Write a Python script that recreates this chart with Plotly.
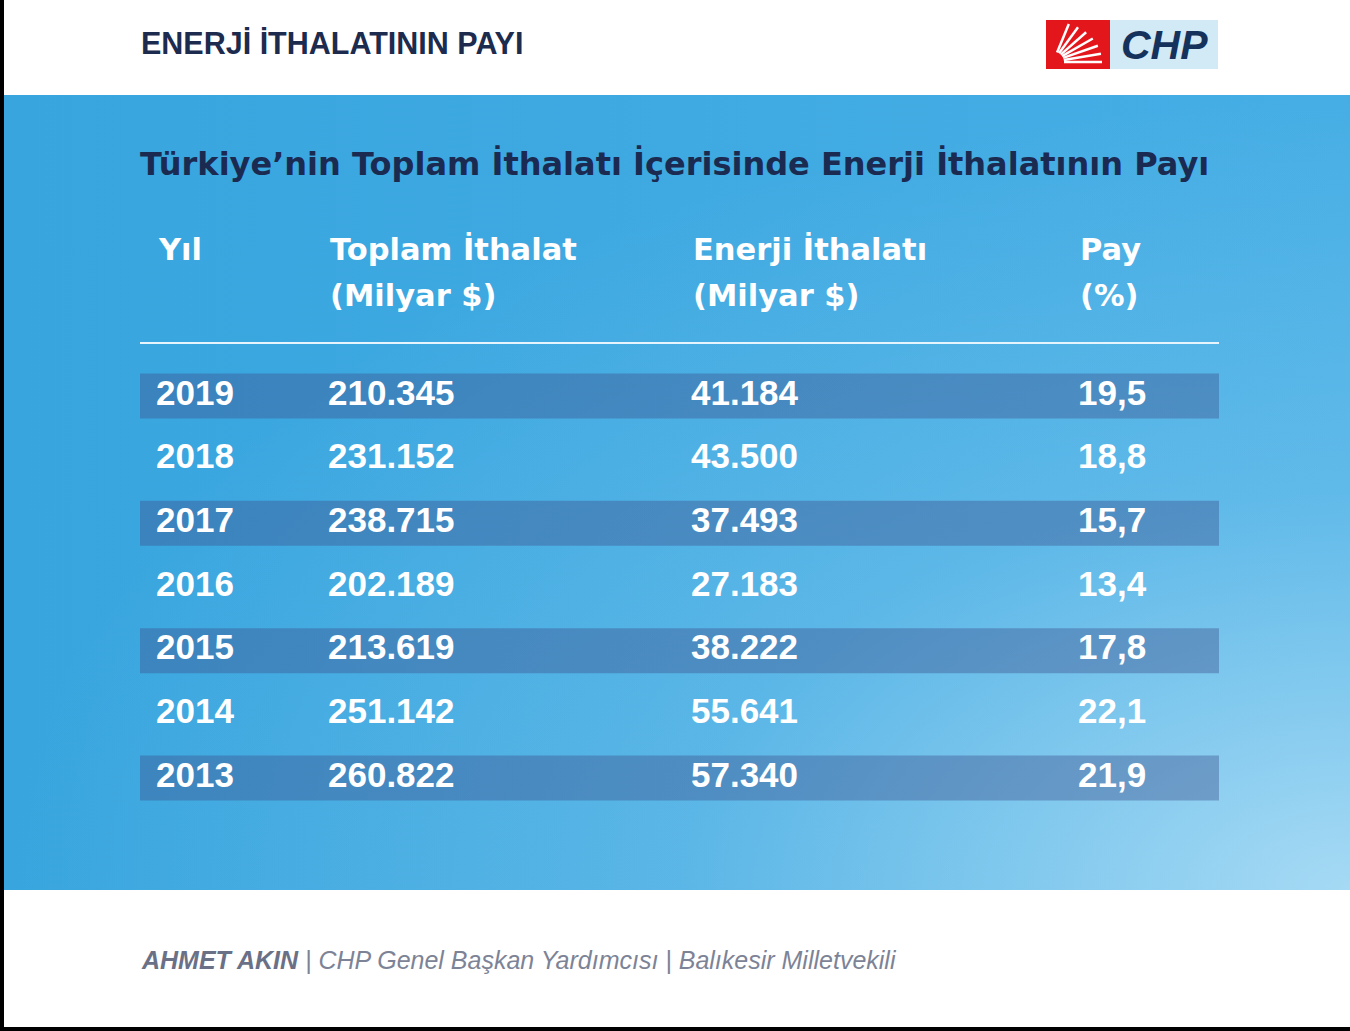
import math
import plotly.graph_objects as go

# Table values (Milyar $ / %)
years = [2019, 2018, 2017, 2016, 2015, 2014, 2013]
total_imports = [210.345, 231.152, 238.715, 202.189, 213.619, 251.142, 260.822]
energy_imports = [41.184, 43.500, 37.493, 27.183, 38.222, 55.641, 57.340]
share_pct = [19.5, 18.8, 15.7, 13.4, 17.8, 22.1, 21.9]

header_top = ["Yıl", "Toplam İthalat", "Enerji İthalatı", "Pay"]
header_bottom = ["", "(Milyar $)", "(Milyar $)", "(%)"]

title = "ENERJİ İTHALATININ PAYI"
subtitle = "Türkiye’nin Toplam İthalatı İçerisinde Enerji İthalatının Payı"
footer_name = "AHMET AKIN"
footer_role = " | CHP Genel Başkan Yardımcısı | Balıkesir Milletvekili"

# page geometry (pixels)
W, H = 1350, 1031
col_x = [156, 328, 691, 1078]
table_left, table_right = 140, 1219
band_top, band_bottom = 95, 890
row_px_first, row_px_step = 396, 63.67

navy = "#1D2B4E"
sans = "Liberation Sans, Arial, sans-serif"
wide = "DejaVu Sans, Verdana, sans-serif"

columns = [
    [str(y) for y in years],
    [f"{v:.3f}" for v in total_imports],
    [f"{v:.3f}" for v in energy_imports],
    [f"{v:.1f}".replace(".", ",") for v in share_pct],
]

fig = go.Figure()

# blue band background
fig.add_trace(go.Scatter(
    x=[4, W, W, 4, 4], y=[band_top, band_top, band_bottom, band_bottom, band_top],
    mode="lines", fill="toself", line=dict(width=0),
    fillgradient=dict(type="horizontal", colorscale=[[0, "#38A5DE"], [1, "#46AEE5"]]),
    hoverinfo="skip", xaxis="x", yaxis="y",
))
# light glow towards bottom-right corner (zero-area spike widens the bounding box)
fig.add_trace(go.Scatter(
    x=[4, W, W, 2 * W - 4, W, 4, 4],
    y=[band_top, band_top, band_bottom, 2 * band_bottom - band_top, band_bottom, band_bottom, band_top],
    mode="lines", fill="toself", line=dict(width=0),
    fillgradient=dict(type="radial", colorscale=[
        [0, "rgba(215,240,252,0.66)"], [0.5, "rgba(215,240,252,0.18)"], [1, "rgba(215,240,252,0)"]]),
    hoverinfo="skip", xaxis="x", yaxis="y",
))

# striped rows
fig.add_trace(go.Bar(
    y=years[::2], x=[table_right - table_left] * len(years[::2]), base=table_left,
    orientation="h", width=0.707, marker=dict(color="rgba(60,80,140,0.4)", line=dict(width=0)),
    hoverinfo="skip", xaxis="x", yaxis="y2",
))

# cell texts
for cx, labels in zip(col_x, columns):
    fig.add_trace(go.Scatter(
        x=[cx] * len(labels), y=years, mode="text", text=labels,
        textposition="middle right", cliponaxis=False,
        textfont=dict(family=sans, size=35, color="white", weight="bold"),
        hoverinfo="skip", xaxis="x", yaxis="y2",
    ))

annotations = [
    dict(x=139, y=43, text=f"<b>{title}</b>", font=dict(family=sans, size=30.5, color=navy)),
    dict(x=138, y=164, text=f"<b>{subtitle}</b>", font=dict(family=wide, size=32, color="#1B2A50")),
    dict(x=139, y=960,
         text=f"<b><i>{footer_name}</i></b><i><span style='color:#7D8396'>{footer_role}</span></i>",
         font=dict(family=sans, size=25, color="#6A7187")),
]
for cx, top, bottom in zip(col_x, header_top, header_bottom):
    annotations.append(dict(x=cx, y=249, text=f"<b>{top}</b>",
                            font=dict(family=wide, size=30.5, color="white")))
    if bottom:
        annotations.append(dict(x=cx, y=295, text=f"<b>{bottom}</b>",
                                font=dict(family=wide, size=30.5, color="white")))
for a in annotations:
    a.update(xref="x", yref="y", xanchor="left", yanchor="middle", showarrow=False)

# CHP logo
annotations.append(dict(x=1164, y=45, xref="x", yref="y", xanchor="center", yanchor="middle",
                        showarrow=False, text="<b><i>CHP</i></b>",
                        font=dict(family=sans, size=41, color="#15325C")))

shapes = [
    dict(type="line", x0=table_left, x1=table_right, y0=343, y1=343,
         line=dict(color="#E6F5FD", width=2)),
    dict(type="rect", x0=1046, x1=1110, y0=20, y1=69, fillcolor="#E3161B", line=dict(width=0)),
    dict(type="rect", x0=1110, x1=1218, y0=20, y1=69, fillcolor="#D2E9F6", line=dict(width=0)),
    dict(type="rect", x0=0, x1=4, y0=0, y1=H, fillcolor="black", line=dict(width=0), layer="above"),
    dict(type="rect", x0=0, x1=W, y0=H - 4, y1=H, fillcolor="black", line=dict(width=0), layer="above"),
]
for ang in [72, 60, 48, 36, 24, 12, 0]:
    r = math.radians(ang)
    cx0, cy0 = 1054, 62
    shapes.append(dict(type="line",
                       x0=cx0 + 10 * math.cos(r), y0=cy0 - 10 * math.sin(r),
                       x1=cx0 + 48 * math.cos(r), y1=cy0 - 40 * math.sin(r),
                       line=dict(color="white", width=2.5)))
for s in shapes:
    s.update(xref="x", yref="y")

y2_top = years[0] + row_px_first / row_px_step
y2_bottom = years[0] - (H - row_px_first) / row_px_step

fig.update_layout(
    width=W, height=H, margin=dict(l=0, r=0, t=0, b=0),
    paper_bgcolor="white", plot_bgcolor="white", showlegend=False,
    xaxis=dict(range=[0, W], visible=False, fixedrange=True),
    yaxis=dict(range=[H, 0], visible=False, fixedrange=True),
    yaxis2=dict(range=[y2_bottom, y2_top], overlaying="y", anchor="x", visible=False, fixedrange=True),
    annotations=annotations, shapes=shapes,
)

fig.write_html("out.html", config={"displayModeBar": False},
               post_script="document.body.style.margin='0';document.body.style.overflow='hidden';")
